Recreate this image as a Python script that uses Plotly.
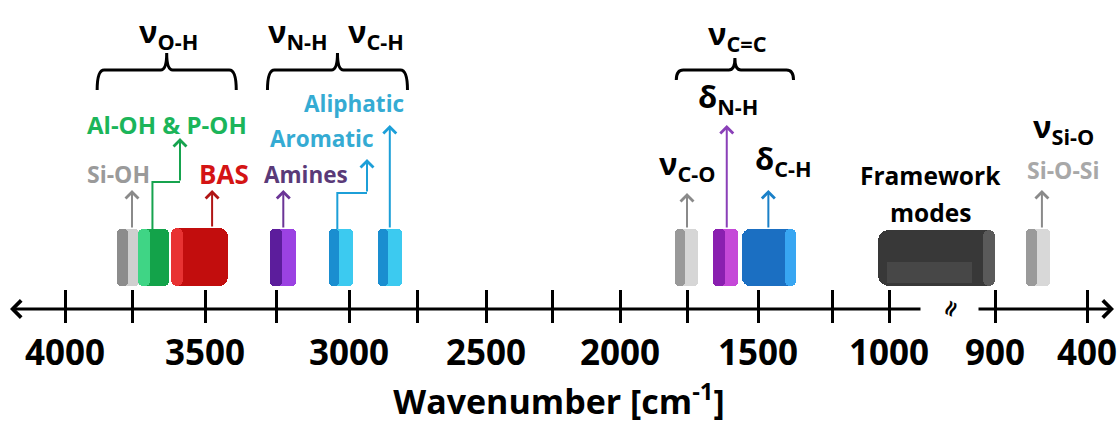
import numpy as np
import plotly.graph_objects as go

# ---------------- data ----------------
tick_wn = [4000, 3750, 3500, 3250, 3000, 2750, 2500, 2250, 2000, 1750, 1500, 1250, 1000, 900, 400]
tick_labels = ["4000", "", "3500", "", "3000", "", "2500", "", "2000", "", "1500", "", "1000", "900", "400"]

band_names = ["Si-OH", "Al-OH & P-OH", "BAS", "Amines", "Aromatic", "Aliphatic",
              "ν C-O", "δ N-H", "δ C-H", "Framework modes", "Si-O-Si"]
band_hi = [3805, 3730, 3615, 3270, 3070, 2895, 1795, 1660, 1555, 1050, 730]
band_lo = [3725, 3625, 3420, 3180, 2985, 2805, 1710, 1570, 1370, 900, 600]
peak_wn = [3750, 3680, 3475, 3225, 3040, 2850, 1750, 1610, 1465, None, 645]

brace_hi = [3880, 3280, 1790]
brace_lo = [3390, 2785, 1380]

# ---------------- scale (hand-drawn, broken axis) ----------------
axis_px = [65, 132, 205, 276, 349, 417, 486, 552, 620, 687, 758, 832, 889, 995, 1087]


def X(wn):
    return np.interp(-np.asarray(wn, dtype=float), -np.array(tick_wn, float), axis_px)


W, H = 1118, 426
AXIS_Y = 309
FONT = "Open Sans"

fig = go.Figure()

# ---------------- bands ----------------
styles = {
    "Si-OH": dict(base="#cfcfcf", shade="#8c8c8c", frac=0.48, r=4, top=229),
    "Al-OH & P-OH": dict(base="#13a34a", shade="#3fd585", frac=0.4, r=5, top=229),
    "BAS": dict(base="#c20d0d", shade="#e83232", frac=0.2, r=9, top=228),
    "Amines": dict(base="#9b42e2", shade="#5c1d9c", frac=0.45, r=4, top=229),
    "Aromatic": dict(base="#3ccaf0", shade="#1a8ed0", frac=0.42, r=4, top=229),
    "Aliphatic": dict(base="#3ccaf0", shade="#1a8ed0", frac=0.42, r=4, top=229),
    "ν C-O": dict(base="#d6d6d6", shade="#999999", frac=0.45, r=4, top=229),
    "δ N-H": dict(base="#c548d8", shade="#8a1fb0", frac=0.5, r=4, top=229),
    "δ C-H": dict(base="#1b6fc2", shade="#38a6f2", frac=0.78, r=8, top=229, right=True),
    "Framework modes": dict(base="#383838", shade="#5a5a5a", frac=0.9, r=11, top=230, right=True),
    "Si-O-Si": dict(base="#d8d8d8", shade="#9a9a9a", frac=0.45, r=4, top=229),
}
BOTTOM = 286

for name, hi, lo in zip(band_names, band_hi, band_lo):
    st = styles[name]
    x0, x1 = float(X(hi)), float(X(lo))
    fig.add_trace(go.Bar(x=[(x0 + x1) / 2], y=[BOTTOM - st["top"]], base=[st["top"]],
                         width=[x1 - x0], marker=dict(color=st["base"], cornerradius=st["r"], line_width=0),
                         showlegend=False, hoverinfo="skip", name=name))
    if name == "Framework modes":
        # lighter lower face
        lx0, lx1 = x0 + (x1 - x0) * 0.08, x0 + (x1 - x0) * 0.8
        fig.add_trace(go.Bar(x=[(lx0 + lx1) / 2], y=[BOTTOM - 3 - 262], base=[262],
                             width=[lx1 - lx0], marker=dict(color="#474747", line_width=0),
                             showlegend=False, hoverinfo="skip"))
    if st.get("right"):
        sx0, sx1 = x0 + (x1 - x0) * st["frac"], x1
    else:
        sx0, sx1 = x0, x0 + (x1 - x0) * st["frac"]
    top = st["top"]
    fig.add_trace(go.Bar(x=[(sx0 + sx1) / 2], y=[BOTTOM - top], base=[top],
                         width=[sx1 - sx0], marker=dict(color=st["shade"], cornerradius=st["r"], line_width=0),
                         showlegend=False, hoverinfo="skip"))

# ---------------- arrows from bands ----------------
arrow_col = {
    "Si-OH": "#8a8a8a", "Al-OH & P-OH": "#16a34e", "BAS": "#b01515", "Amines": "#6b3596",
    "Aromatic": "#1c9fd8", "Aliphatic": "#1c9fd8", "ν C-O": "#8a8a8a", "δ N-H": "#8a40b8",
    "δ C-H": "#1a80c8", "Si-O-Si": "#8a8a8a",
}
arrow_tip = {"Si-OH": 190, "Al-OH & P-OH": 138, "BAS": 190, "Amines": 190, "Aromatic": 159,
             "Aliphatic": 125, "ν C-O": 193, "δ N-H": 125, "δ C-H": 190, "Si-O-Si": 190}
bend = {"Al-OH & P-OH": (182, 180), "Aromatic": (193, 367)}  # (bend y, final x in px)

annotations = []
shapes = []
for name, pk, hi in zip(band_names, peak_wn, band_hi):
    if pk is None:
        continue
    st = styles[name]
    xp = float(X(pk))
    col = arrow_col[name]
    if name in bend:
        by, fx = bend[name]
        shapes.append(dict(type="path", path=f"M{xp},{st['top']} L{xp},{by} L{fx},{by}",
                           line=dict(color=col, width=2), xref="x", yref="y"))
        ax_, ay_, x_ = fx, by, fx
    else:
        ax_, ay_, x_ = xp, st["top"], xp
    annotations.append(dict(x=x_, y=arrow_tip[name], ax=ax_, ay=ay_, xref="x", yref="y",
                            axref="x", ayref="y", showarrow=True, text="", arrowhead=4,
                            arrowwidth=2, arrowsize=1.25, arrowcolor=col))

# ---------------- braces ----------------
brace_geom = [(70, 90, 53), (70, 90, 53), (70, 80, 58)]
for hi, lo, (ty, ey, py) in zip(brace_hi, brace_lo, brace_geom):
    xl, xr = float(X(hi)), float(X(lo))
    xc = (xl + xr) / 2
    p = (f"M{xl},{ey} Q{xl},{ty} {xl+7},{ty} L{xc-6},{ty} Q{xc},{ty} {xc},{py} "
         f"Q{xc},{ty} {xc+6},{ty} L{xr-7},{ty} Q{xr},{ty} {xr},{ey}")
    shapes.append(dict(type="path", path=p, line=dict(color="black", width=3), xref="x", yref="y"))

# ---------------- labels ----------------
def lab(text, x, y, size, color="black"):
    annotations.append(dict(x=x, y=y, xref="x", yref="y", text=f"<b>{text}</b>", showarrow=False,
                            font=dict(family=FONT, size=size, color=color), xanchor="center",
                            yanchor="middle"))

big = 31
lab("ν<sub>O-H</sub>", 168, 33, big)
lab("ν<sub>N-H</sub>", 298, 33, big)
lab("ν<sub>C-H</sub>", 376, 33, big)
lab("ν<sub>C=C</sub>", 737, 35, big)
lab("δ<sub>N-H</sub>", 728, 98, big)
lab("ν<sub>C-O</sub>", 687, 165, big)
lab("δ<sub>C-H</sub>", 783, 160, big)
lab("ν<sub>Si-O</sub>", 1063, 128, big)

lab("Al-OH &amp; P-OH", 167, 124, 24, "#1bb55a")
lab("Aliphatic", 354, 103, 22.5, "#35abd3")
lab("Aromatic", 322, 138, 22.5, "#35abd3")
lab("Si-OH", 118, 174, 23, "#9a9a9a")
lab("BAS", 224, 174, 26, "#d41414")
lab("Amines", 306, 174, 22.5, "#5a3a78")
lab("Framework", 930, 175, 24.5)
lab("modes", 930, 212, 24.5)
lab("Si-O-Si", 1063, 170, 23, "#a8a8a8")

# ---------------- axis line with break and arrow heads ----------------
brk_l, brk_r = 922, 977
annotations.append(dict(x=10, y=AXIS_Y, ax=brk_l, ay=AXIS_Y, xref="x", yref="y", axref="x", ayref="y",
                        showarrow=True, text="", arrowhead=4, arrowwidth=3, arrowsize=1.1, arrowcolor="black"))
annotations.append(dict(x=1114, y=AXIS_Y, ax=brk_r, ay=AXIS_Y, xref="x", yref="y", axref="x", ayref="y",
                        showarrow=True, text="", arrowhead=4, arrowwidth=3, arrowsize=1.1, arrowcolor="black"))
annotations.append(dict(x=(brk_l + brk_r) / 2, y=AXIS_Y, xref="x", yref="y", text="<b>≈</b>", showarrow=False,
                        textangle=-65, font=dict(family="DejaVu Sans", size=22, color="black")))

# invisible trace for the second (tick) axis
fig.add_trace(go.Scatter(x=[0], y=[0], xaxis="x2", mode="markers", marker=dict(opacity=0),
                         showlegend=False, hoverinfo="skip"))

tickvals = [float(v) for v in X(tick_wn)]
axpos = (H - AXIS_Y) / H

fig.update_layout(
    width=W, height=H, margin=dict(l=0, r=0, t=0, b=0),
    paper_bgcolor="white", plot_bgcolor="white", barmode="overlay", bargap=0,
    shapes=shapes, annotations=annotations,
    xaxis=dict(range=[0, W], anchor="free", position=axpos, tickmode="array", tickvals=tickvals,
               ticktext=tick_labels, ticks="outside", ticklen=13, tickwidth=3, tickcolor="black",
               showgrid=False, zeroline=False, showline=False, ticklabeloverflow="allow",
               tickfont=dict(family=FONT, size=35, color="black", weight="bold"),
               title=dict(text="Wavenumber [cm<sup>-1</sup>]", standoff=14,
                          font=dict(family=FONT, size=34, color="black", weight="bold"))),
    xaxis2=dict(range=[0, W], overlaying="x", anchor="free", position=axpos, side="bottom",
                tickmode="array", tickvals=tickvals, ticks="inside", ticklen=19, tickwidth=3,
                tickcolor="black", showticklabels=False, showgrid=False, zeroline=False, showline=False),
    yaxis=dict(range=[H, 0], visible=False, showgrid=False, zeroline=False, domain=[0, 1]),
)

fig.write_html("out.html", config={"displayModeBar": False},
               post_script="document.body.style.margin='0';")
